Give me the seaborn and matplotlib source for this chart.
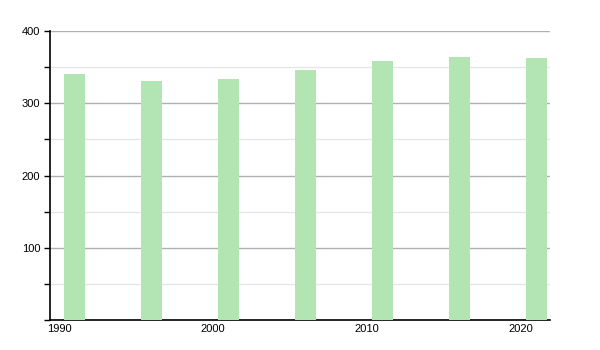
import matplotlib
matplotlib.use("Agg")
import matplotlib.pyplot as plt
import seaborn as sns
import pandas as pd
from matplotlib.ticker import MultipleLocator

years = [1991, 1996, 2001, 2006, 2011, 2016, 2021]
values = [340, 331, 334, 346, 358, 364, 362]
xticks = [1990, 2000, 2010, 2020]
yticks = [100, 200, 300, 400]

sns.set_style("white")
plt.rcParams['font.family'] = ['Liberation Sans', 'DejaVu Sans']

df = pd.DataFrame({"year": years, "value": values})

fig = plt.figure(figsize=(6, 3.5), dpi=100)
ax = fig.add_axes([50/600, 30/350, 500/600, 289/350])

sns.barplot(data=df, x="year", y="value", ax=ax, native_scale=True,
            color="#b2e5b2", saturation=1, width=0.272, edgecolor="none",
            zorder=3)

ax.set_xlim(1989.4, 2021.9)
ax.set_ylim(0, 400)
ax.set_xticks(xticks)
ax.set_xticklabels([str(t) for t in xticks])
ax.set_yticks(yticks)
ax.yaxis.set_minor_locator(MultipleLocator(50))
ax.set_xlabel("")
ax.set_ylabel("")

ax.grid(axis="y", which="major", color="#b0b0b0", linewidth=1, zorder=1)
ax.grid(axis="y", which="minor", color="#e6e6e6", linewidth=1, zorder=1)
ax.set_axisbelow(True)

for s in ["top", "right"]:
    ax.spines[s].set_visible(False)
for s in ["left", "bottom"]:
    ax.spines[s].set_color("black")
    ax.spines[s].set_linewidth(1.2)

ax.tick_params(axis="y", which="major", length=4, width=1, color="black",
               labelsize=8, pad=3, left=True, labelcolor="black")
ax.tick_params(axis="y", which="minor", length=4, width=1, color="black", left=True)
ax.tick_params(axis="x", length=0, labelsize=8, pad=3, labelcolor="black")

fig.savefig("out.png", dpi=100)
